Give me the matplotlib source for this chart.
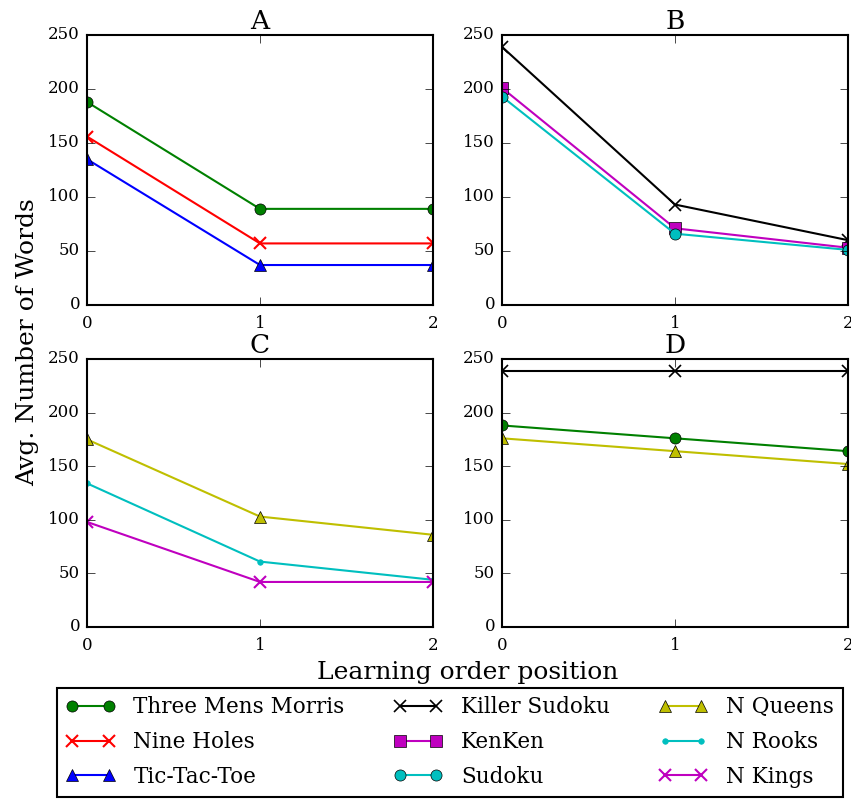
import matplotlib
matplotlib.use("Agg")
from matplotlib import pyplot as plt

plt.style.use('classic')
plt.rcParams['font.family'] = ['DejaVu Serif']
plt.rcParams['figure.facecolor'] = 'white'
plt.rcParams['savefig.facecolor'] = 'white'

positions = [0, 1, 2]

# panel A
three_mens_a = [188, 89, 89]
nine_holes = [156, 57, 57]
tic_tac_toe = [135, 37, 37]
# panel B
killer_sudoku_b = [239, 93, 60]
kenken = [201, 71, 53]
sudoku = [193, 66, 51]
# panel C
n_queens_c = [175, 103, 86]
n_rooks = [134, 61, 44]
n_kings = [98, 42, 42]
# panel D
three_mens_d = [188, 176, 164]
killer_sudoku_d = [239, 239, 239]
n_queens_d = [176, 164, 152]

fig = plt.figure(figsize=(8.51, 7.99), dpi=100)
axA = fig.add_axes([0.1022, 0.6183, 0.4066, 0.3379])
axB = fig.add_axes([0.5899, 0.6183, 0.4066, 0.3379])
axC = fig.add_axes([0.1022, 0.2153, 0.4066, 0.3354])
axD = fig.add_axes([0.5899, 0.2153, 0.4066, 0.3354])

lw = 1.5
ms = 8
lA1, = axA.plot(positions, three_mens_a, 'g-o', lw=lw, ms=ms, label='Three Mens Morris')
lA2, = axA.plot(positions, nine_holes, 'r-x', lw=lw, ms=ms, mew=1.5, label='Nine Holes')
lA3, = axA.plot(positions, tic_tac_toe, 'b-^', lw=lw, ms=ms, label='Tic-Tac-Toe')

lB1, = axB.plot(positions, killer_sudoku_b, 'k-x', lw=lw, ms=ms, mew=1.2, label='Killer Sudoku')
lB2, = axB.plot(positions, kenken, 'm-s', lw=lw, ms=ms, label='KenKen')
lB3, = axB.plot(positions, sudoku, 'c-o', lw=lw, ms=ms, label='Sudoku')

lC1, = axC.plot(positions, n_queens_c, 'y-^', lw=lw, ms=ms, label='N Queens')
lC2, = axC.plot(positions, n_rooks, color='c', ls='-', marker='.', lw=lw, ms=ms, label='N Rooks')
lC3, = axC.plot(positions, n_kings, 'm-x', lw=lw, ms=ms, mew=1.5, label='N Kings')

axD.plot(positions, killer_sudoku_d, 'k-x', lw=lw, ms=ms, mew=1.2)
axD.plot(positions, three_mens_d, 'g-o', lw=lw, ms=ms)
axD.plot(positions, n_queens_d, 'y-^', lw=lw, ms=ms)

for ax, title in zip([axA, axB, axC, axD], ['A', 'B', 'C', 'D']):
    ax.set_xlim(0, 2)
    ax.set_ylim(0, 250)
    ax.set_xticks([0, 1, 2])
    ax.set_yticks([0, 50, 100, 150, 200, 250])
    ax.set_title(title, fontsize=19, pad=4)
    ax.tick_params(labelsize=12, direction='in', length=6)
    ax.tick_params(axis='x', pad=7)
    ax.tick_params(axis='y', pad=5)
    for s in ax.spines.values():
        s.set_linewidth(1.5)

fig.text(0.549, 0.158, 'Learning order position', ha='center', va='center', fontsize=18)
fig.text(0.032, 0.572, 'Avg. Number of Words', ha='center', va='center', rotation=90, fontsize=18)

handles = [lA1, lA2, lA3, lB1, lB2, lB3, lC1, lC2, lC3]
leg = fig.legend(handles, [h.get_label() for h in handles], loc='lower left',
                 bbox_to_anchor=(0.067, 0.003), ncol=3, numpoints=2,
                 fontsize=15.5, handlelength=2.3, handletextpad=0.85,
                 columnspacing=2.25, labelspacing=0.6, borderpad=0.4,
                 borderaxespad=0, frameon=True, fancybox=False)
leg.get_frame().set_edgecolor('black')
leg.get_frame().set_linewidth(1.5)

fig.savefig('out.png', dpi=100)
